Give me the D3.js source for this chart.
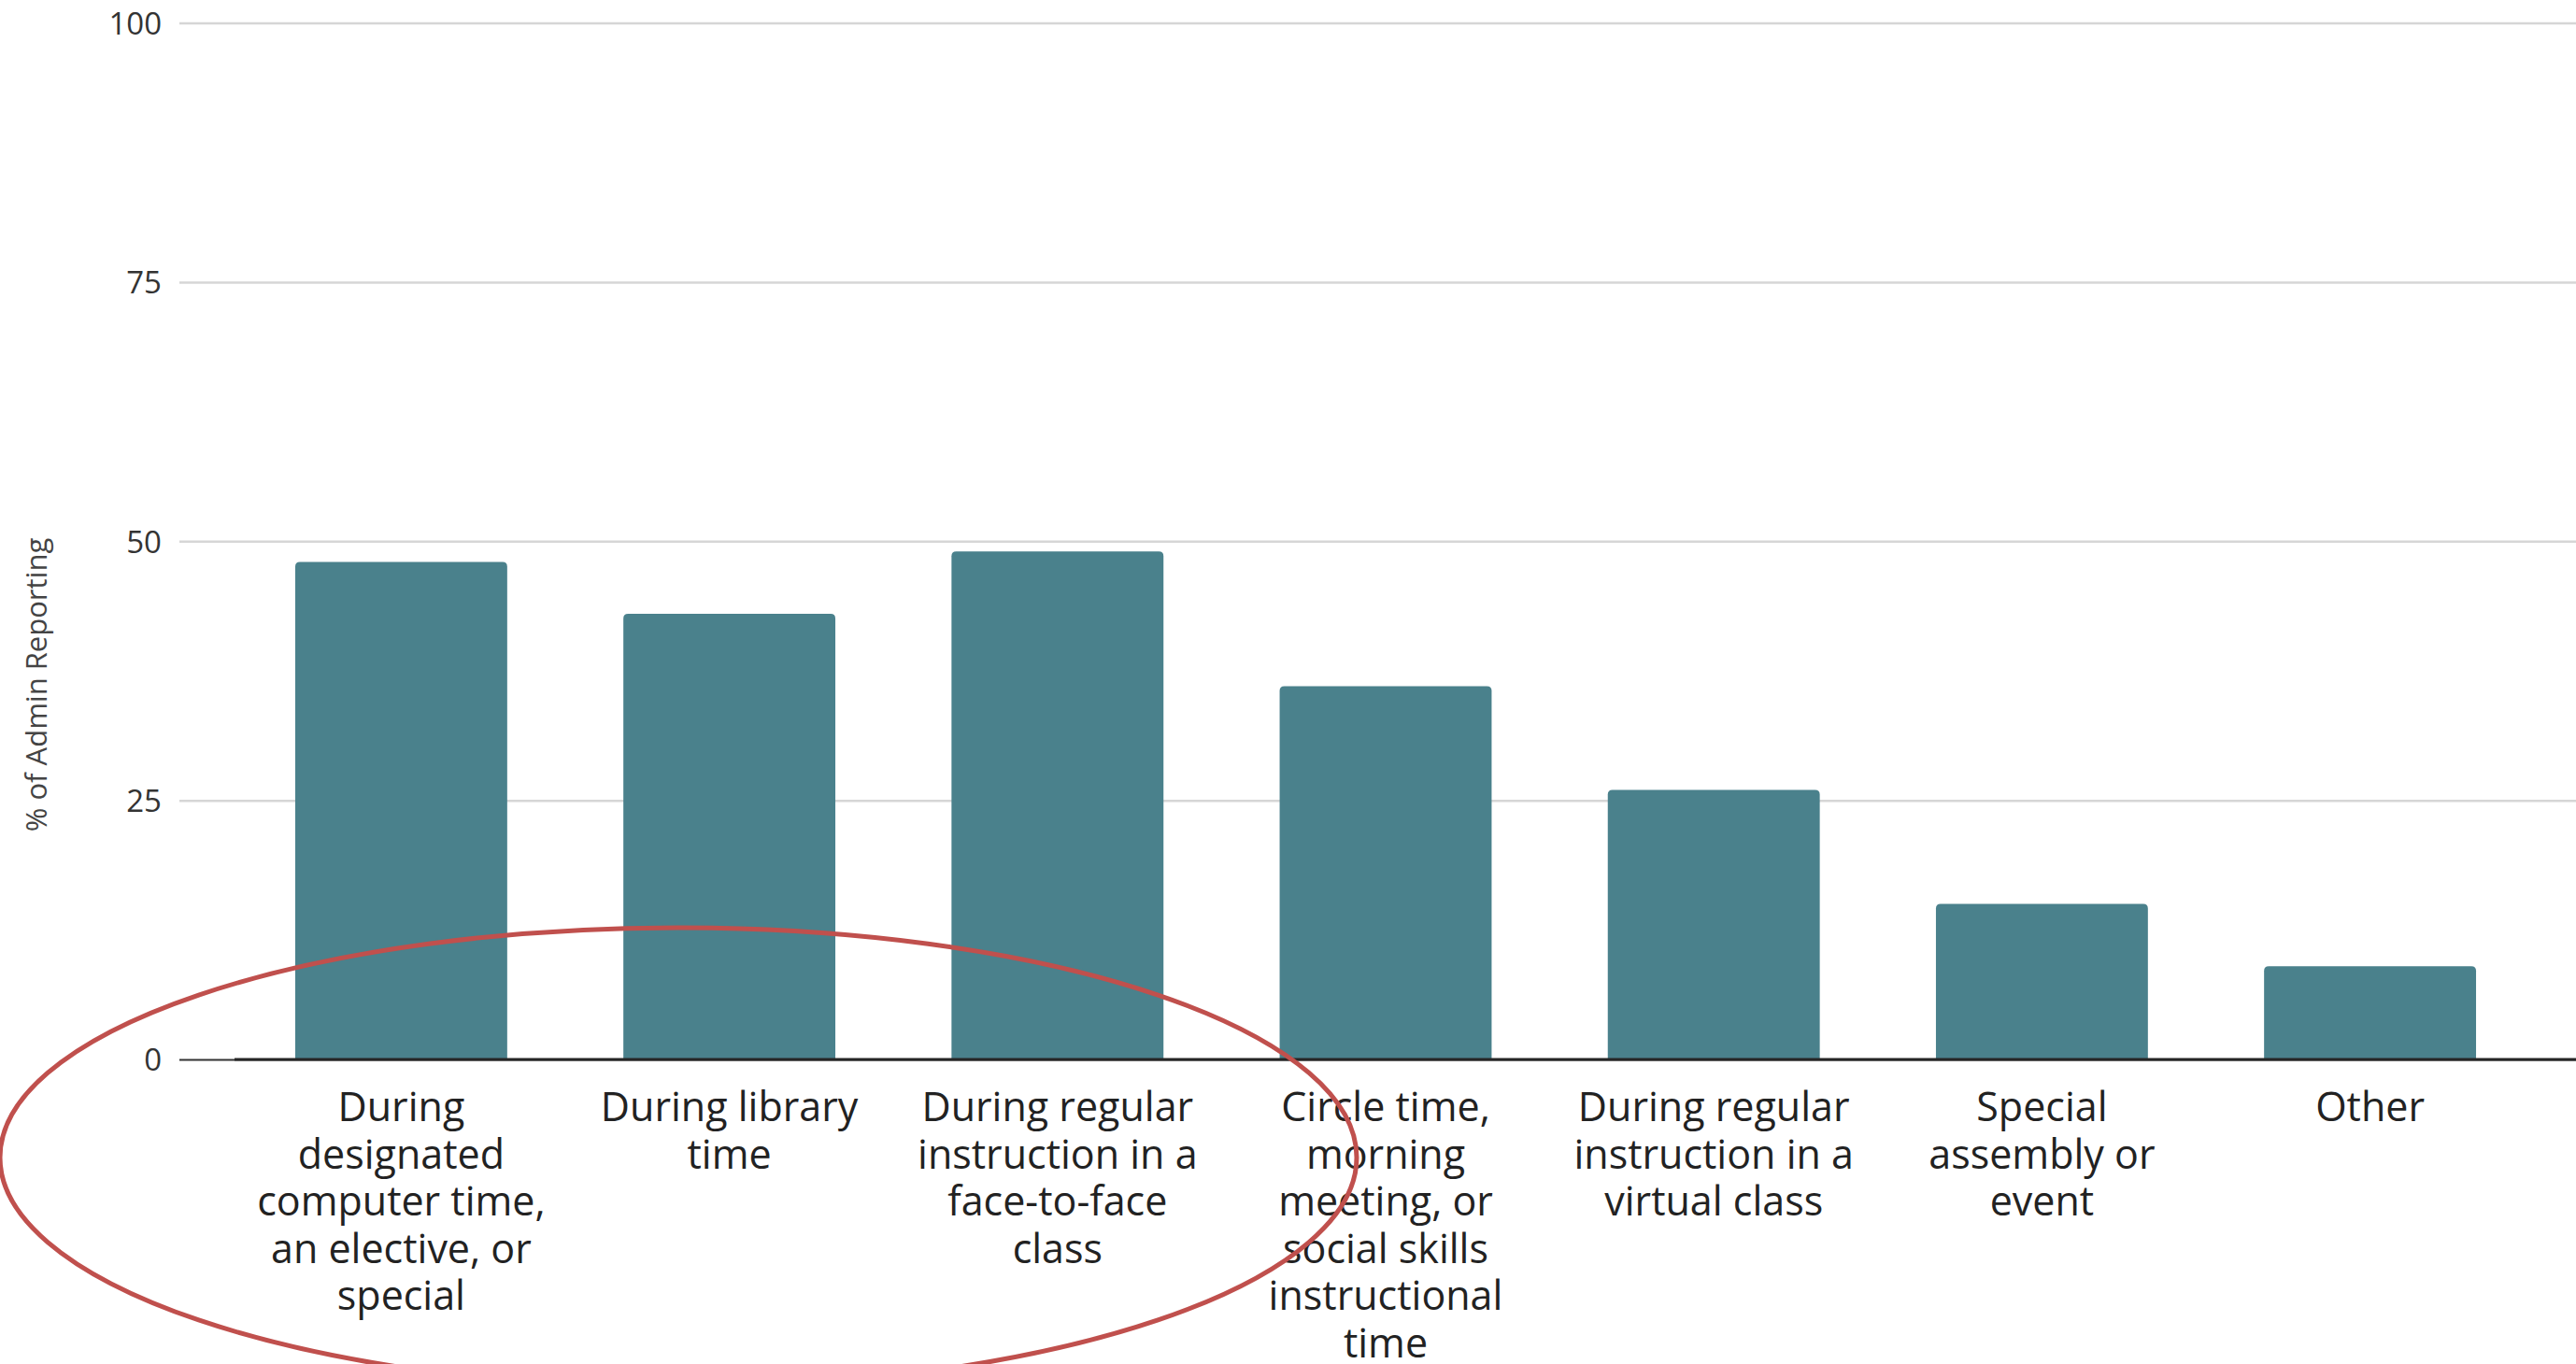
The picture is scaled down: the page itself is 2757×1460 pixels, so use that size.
<!DOCTYPE html>
<html>
<head>
<meta charset="utf-8">
<script src="https://cdn.jsdelivr.net/npm/d3@7"></script>
<style>
  html, body { margin: 0; padding: 0; background: #ffffff; overflow: hidden; }
  svg { display: block; }
</style>
</head>
<body>
<script>
// Where students are taught the topic, by share of administrators reporting it
const categories = [
  "During designated computer time, an elective, or special",
  "During library time",
  "During regular instruction in a face-to-face class",
  "Circle time, morning meeting, or social skills instructional time",
  "During regular instruction in a virtual class",
  "Special assembly or event",
  "Other"
];
const labelLines = [
  ["During", "designated", "computer time,", "an elective, or", "special"],
  ["During library", "time"],
  ["During regular", "instruction in a", "face-to-face", "class"],
  ["Circle time,", "morning", "meeting, or", "social skills", "instructional", "time"],
  ["During regular", "instruction in a", "virtual class"],
  ["Special", "assembly or", "event"],
  ["Other"]
];
const values = [48, 43, 49, 36, 26, 15, 9];
const yTicks = [0, 25, 50, 75, 100];
const yTitle = "% of Admin Reporting";

const W = 2757, H = 1460;
const svg = d3.select("body").append("svg").attr("width", W).attr("height", H);

const y = d3.scaleLinear().domain([0, 100]).range([1134, 24.5]);
const x = d3.scaleBand().domain(categories).range([251, 2715])
  .paddingInner(0.354).paddingOuter(0.185);

// horizontal grid lines and tick labels
const yAxis = d3.axisLeft(y).tickValues(yTicks).tickSize(-(W - 192)).tickPadding(19);
const gy = svg.append("g").attr("transform", "translate(192,0)").call(yAxis);
gy.select(".domain").remove();
gy.selectAll(".tick line")
  .attr("stroke", d => d === 0 ? "#333333" : "#d6d6d6")
  .attr("stroke-width", d => d === 0 ? 2 : 2.5);
gy.selectAll(".tick text")
  .attr("fill", "#333333")
  .attr("font-family", "'Open Sans', sans-serif")
  .attr("font-size", 33)
  .attr("dy", "0.36em");

// y-axis title
svg.append("text")
  .attr("transform", "translate(50,733) rotate(-90)")
  .attr("text-anchor", "middle")
  .attr("font-family", "'Open Sans', sans-serif")
  .attr("font-size", 31)
  .attr("fill", "#444444")
  .text(yTitle);

// bars with softly rounded top corners
const r = 5;
function barPath(d, i) {
  const x0 = x(categories[i]), w = x.bandwidth();
  const y0 = y(d), yb = y(0);
  return `M${x0},${yb}V${y0 + r}Q${x0},${y0} ${x0 + r},${y0}H${x0 + w - r}` +
         `Q${x0 + w},${y0} ${x0 + w},${y0 + r}V${yb}Z`;
}
svg.append("g").selectAll("path").data(values).join("path")
  .attr("d", barPath)
  .attr("fill", "#4a818c");

// baseline
svg.append("line")
  .attr("x1", 251).attr("x2", W)
  .attr("y1", y(0)).attr("y2", y(0))
  .attr("stroke", "#262626").attr("stroke-width", 3);

// category labels, wrapped
const gl = svg.append("g")
  .attr("font-family", "'Open Sans', sans-serif")
  .attr("font-size", 43)
  .attr("fill", "#222222")
  .attr("text-anchor", "middle");
labelLines.forEach((lines, i) => {
  const cx = x(categories[i]) + x.bandwidth() / 2;
  const t = gl.append("text").attr("x", cx).attr("y", 1200);
  lines.forEach((ln, j) => {
    t.append("tspan").attr("x", cx).attr("y", 1200 + j * 50.5).text(ln);
  });
});

// highlight ring around the first three categories
svg.append("ellipse")
  .attr("cx", 726).attr("cy", 1239)
  .attr("rx", 726).attr("ry", 246)
  .attr("fill", "none")
  .attr("stroke", "#c0504d")
  .attr("stroke-width", 5);
</script>
</body>
</html>
